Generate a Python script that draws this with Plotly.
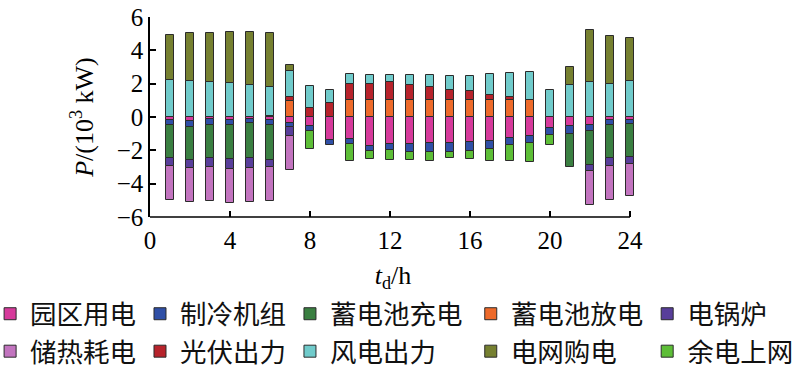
import plotly.graph_objects as go

hours = list(range(1, 25))
N = None

park_load = [-0.16, -0.22, -0.14, -0.20, -0.12, -0.20, -0.33, -0.55, -1.38, -1.30, -1.72, -1.60,
             -1.60, -1.56, -1.54, -1.50, -1.42, -1.25, -1.15, -0.65, -0.54, -0.50, -0.18, -0.15]
chiller = [-0.30, -0.35, -0.32, -0.28, -0.26, -0.30, -0.25, -0.30, -0.28, -0.32, -0.34, -0.36,
           -0.50, -0.54, -0.56, -0.52, -0.50, -0.44, -0.40, -0.45, -0.50, -0.35, -0.29, -0.24]
batt_charge = [-2.00, -2.02, -2.00, -2.03, -2.05, -2.05, N, N, N, N, N, N,
               N, N, N, N, N, N, N, N, -1.96, -2.00, -1.98, -2.00]
batt_discharge = [N, N, N, N, N, N, 0.95, N, N, 1.00, 1.00, 1.00,
                  1.00, 1.00, 1.00, 1.00, 1.00, 1.00, 1.00, N, N, N, N, N]
boiler = [-0.47, -0.46, -0.52, -0.60, -0.60, -0.44, -0.57, N, N, N, N, N,
          N, N, N, N, N, N, N, N, N, -0.38, -0.46, -0.40]
heat_storage = [-2.02, -2.05, -2.07, -2.05, -2.07, -2.07, -2.05, N, N, N, N, N,
                N, N, N, N, N, N, N, N, N, -2.02, -2.04, -1.96]
pv = [N, N, N, N, N, 0.06, 0.25, 0.55, 0.85, 0.98, 1.00, 1.12,
      0.95, 0.78, 0.62, 0.55, 0.35, 0.20, 0.05, N, N, N, N, N]
wind = [2.20, 2.15, 2.11, 2.07, 1.93, 1.77, 1.58, 1.33, 0.78, 0.62, 0.50, 0.42,
        0.60, 0.77, 0.82, 0.90, 1.26, 1.42, 1.64, 1.65, 1.95, 2.09, 2.00, 2.15]
grid_buy = [2.74, 2.92, 2.93, 3.05, 3.17, 3.21, 0.37, N, N, N, N, N,
            N, N, N, N, N, N, N, N, 1.04, 3.12, 2.88, 2.60]
surplus = [N, N, N, N, N, N, N, -1.08, N, -1.04, -0.44, -0.62,
           -0.48, -0.52, -0.38, -0.48, -0.74, -0.96, -1.14, -0.55, N, N, N, N]

series = [
    ("园区用电", park_load, "#D63A9B", "legend"),
    ("制冷机组", chiller, "#2F4FA6", "legend2"),
    ("蓄电池充电", batt_charge, "#3A7F41", "legend3"),
    ("蓄电池放电", batt_discharge, "#EE6A2A", "legend4"),
    ("电锅炉", boiler, "#583E9A", "legend5"),
    ("储热耗电", heat_storage, "#C274BF", "legend"),
    ("光伏出力", pv, "#B7232B", "legend2"),
    ("风电出力", wind, "#70CBCB", "legend3"),
    ("电网购电", grid_buy, "#768030", "legend4"),
    ("余电上网", surplus, "#5DBE37", "legend5"),
]

x_ticks = [0, 4, 8, 12, 16, 20, 24]
y_ticks = [-6, -4, -2, 0, 2, 4, 6]

fig = go.Figure()
for name, vals, color, leg in series:
    fig.add_trace(go.Bar(
        x=hours, y=vals, name=name, width=0.4, legend=leg,
        marker=dict(color=color, line=dict(color="#2b2b2b", width=1)),
    ))

serif = "Liberation Serif, Times New Roman, serif"
cjk = "Noto Sans CJK SC, sans-serif"

legend_common = dict(orientation="v", yanchor="top", xanchor="left", y=-0.365,
                     traceorder="normal", bgcolor="rgba(0,0,0,0)",
                     font=dict(family=cjk, size=26.5, color="#111"))
legend_x = [-0.329, -0.0206, 0.288, 0.660, 1.023]

fig.update_layout(
    width=800, height=370,
    margin=dict(l=150, r=164, t=17, b=153, autoexpand=False),
    paper_bgcolor="white", plot_bgcolor="white",
    barmode="relative", bargap=0,
    showlegend=True,
    legend=dict(x=legend_x[0], **legend_common),
    legend2=dict(x=legend_x[1], **legend_common),
    legend3=dict(x=legend_x[2], **legend_common),
    legend4=dict(x=legend_x[3], **legend_common),
    legend5=dict(x=legend_x[4], **legend_common),
    xaxis=dict(range=[0, 24.3], tickvals=x_ticks, ticktext=[str(v) for v in x_ticks],
               ticks="inside", ticklen=6, tickwidth=1.5, tickcolor="black",
               ticklabelstandoff=6,
               showline=False, showgrid=False, zeroline=False,
               tickfont=dict(family=serif, size=25, color="black"),
               title=dict(text="<i>t</i><sub>d</sub>/h", standoff=12,
                          font=dict(family=serif, size=26, color="black"))),
    yaxis=dict(range=[-6, 6], tickvals=y_ticks, ticktext=[str(v).replace("-", "−") for v in y_ticks],
               ticks="inside", ticklen=6, tickwidth=1.5, tickcolor="black",
               showline=True, linecolor="black", linewidth=1.5,
               showgrid=False, zeroline=False,
               tickfont=dict(family=serif, size=25, color="black"),
               title=dict(text="<i>P</i>/(10<sup>3</sup> kW)", standoff=16,
                          font=dict(family=serif, size=26, color="black"))),
    shapes=[dict(type="line", xref="paper", yref="paper", x0=0, x1=24 / 24.3, y0=0, y1=0,
                 line=dict(color="black", width=1.5), layer="above")],
)

fig.write_html("out.html", config={"displayModeBar": False},
               post_script="document.body.style.margin='0';")
